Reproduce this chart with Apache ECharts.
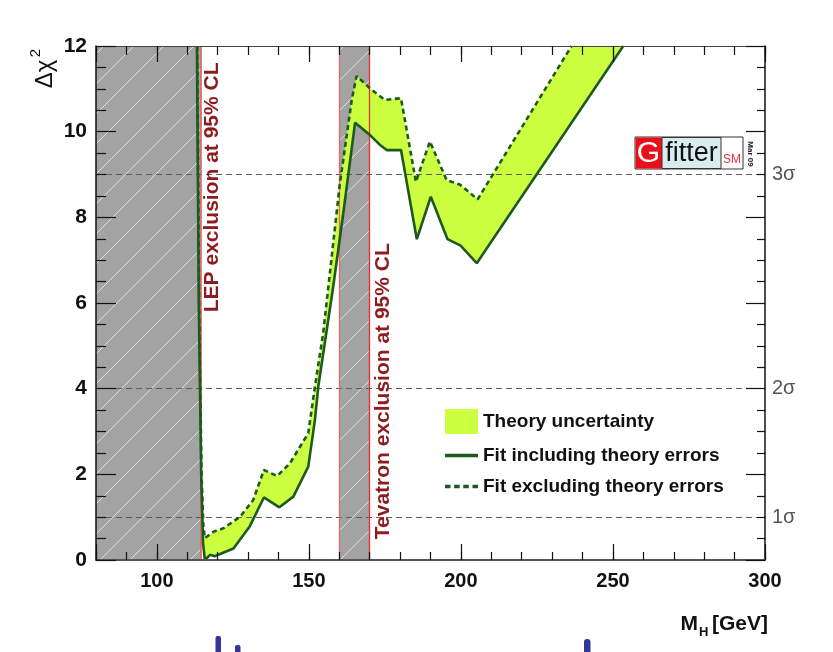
<!DOCTYPE html>
<html><head><meta charset="utf-8">
<script src="https://cdn.jsdelivr.net/npm/echarts@6/dist/echarts.min.js"></script>
<style>html,body{margin:0;padding:0;background:#fff}#c{width:833px;height:652px}</style>
</head><body><div id="c"></div>
<script>
// ---- data ----
const massIncl = [113.2, 113.8, 114.6, 115.2, 115.8, 117.5, 119.1, 120.8, 125.2, 130.6, 135.2, 140.3, 144.9, 149.8, 152.0, 153.1, 158.0, 161.3, 165.2, 170.1, 173.4, 175.6, 180.3, 185.5, 190.1, 195.6, 199.9, 205.2, 253.4];
const chi2Incl = [12, 6, 2, 0.4, 0.0, 0.12, 0.09, 0.14, 0.27, 0.79, 1.46, 1.23, 1.48, 2.18, 3.27, 4.05, 6.38, 8.09, 10.21, 9.92, 9.69, 9.57, 9.57, 7.49, 8.48, 7.49, 7.34, 6.93, 12];
const massExcl = [113.3, 113.9, 114.7, 115.3, 115.8, 118.6, 121.9, 127.4, 131.7, 135.2, 139.6, 143.8, 149.8, 152.0, 154.7, 160.2, 164.1, 165.7, 170.1, 175.0, 180.3, 185.2, 189.8, 195.3, 199.8, 205.5, 236.4];
const chi2Excl = [12, 6, 2, 0.8, 0.51, 0.66, 0.74, 1.01, 1.40, 2.10, 1.96, 2.26, 2.96, 4.05, 5.29, 8.79, 10.74, 11.30, 11.01, 10.74, 10.78, 8.83, 9.77, 8.87, 8.76, 8.42, 12];
const sigmaLevels = [1, 4, 9];
const sigmaLabels = ['1σ', '2σ', '3σ'];
const lepLimit = 114.4;
const tevatronRange = [160, 170];
const xTickLabels = [100, 150, 200, 250, 300];
const legendNames = ['Theory uncertainty', 'Fit including theory errors', 'Fit excluding theory errors'];

const FONT = "'Liberation Sans', Arial, sans-serif";
const bandColor = '#ccff3f';
const lineColor = '#1d5a1d';
const exclColor = '#8e1b1f';

// hatch pattern for excluded regions
const pat = document.createElement('canvas');
pat.width = 30; pat.height = 30;
const g = pat.getContext('2d');
g.fillStyle = '#a3a3a3'; g.fillRect(0, 0, 30, 30);
g.strokeStyle = 'rgba(232,232,232,0.85)'; g.lineWidth = 1;
g.beginPath();
g.moveTo(-2, 32); g.lineTo(32, -2);
g.stroke();

const chart = echarts.init(document.getElementById('c'), null, {renderer: 'canvas'});

const tickStyle = {color: '#111', width: 1.2};
function xAx(pos, minorOnly, len, showLine, showLabel) {
  const a = {
    type: 'value', min: 80, max: 300, position: pos, z: 10,
    axisLine: {show: showLine, lineStyle: {color: pos === 'bottom' ? '#555' : '#444', width: pos === 'bottom' ? 2 : 1}},
    axisTick: {show: true, inside: true, length: len, lineStyle: tickStyle},
    splitLine: {show: false},
    axisLabel: showLabel ? {
      show: true, fontSize: 20, fontWeight: 'bold', color: '#111', fontFamily: FONT, margin: 11,
      formatter: v => xTickLabels.indexOf(v) >= 0 ? String(v) : ''
    } : {show: false}
  };
  if (minorOnly) a.interval = 10;
  return a;
}

const solidIcon = 'path://M0,0H30V3H0Z';
const dashIcon = 'path://M0,0H5V3H0Z M8.3,0H13.3V3H8.3Z M16.6,0H21.6V3H16.6Z M25,0H30V3H25Z';

const option = {
  animation: false,
  backgroundColor: '#fff',
  grid: {left: 96, right: 68, top: 46, bottom: 92, containLabel: false, outerBoundsMode: 'none'},
  xAxis: [
    xAx('bottom', true, 8, true, false),
    xAx('bottom', false, 16, false, true),
    xAx('top', true, 9, true, false),
    xAx('top', false, 16, false, false)
  ],
  yAxis: [
    {type: 'value', min: 0, max: 12, interval: 2, position: 'left', z: 10,
      axisLine: {show: true, lineStyle: {color: '#111', width: 1.5}},
      axisTick: {show: true, inside: true, length: 20, lineStyle: tickStyle},
      minorTick: {show: true, splitNumber: 4, length: 10, lineStyle: tickStyle},
      splitLine: {show: false},
      axisLabel: {fontSize: 21, fontWeight: 'bold', color: '#111', fontFamily: FONT, margin: 9}},
    {type: 'value', min: 0, max: 12, interval: 2, position: 'right', z: 10,
      axisLine: {show: true, lineStyle: {color: '#111', width: 1.5}},
      axisTick: {show: true, inside: true, length: 19, lineStyle: tickStyle},
      minorTick: {show: true, splitNumber: 4, length: 8, lineStyle: tickStyle},
      splitLine: {show: false},
      axisLabel: {show: false}}
  ],
  legend: {
    left: 440, top: 404, orient: 'vertical', itemWidth: 33, itemHeight: 25, itemGap: 12,
    symbolKeepAspect: true,
    itemStyle: {borderWidth: 0},
    textStyle: {fontSize: 19, fontWeight: 'bold', color: '#111', fontFamily: FONT},
    data: [
      {name: legendNames[0], icon: 'rect'},
      {name: legendNames[1], icon: solidIcon},
      {name: legendNames[2], icon: dashIcon}
    ],
    selectedMode: false
  },
  series: [
    {
      name: 'regions', type: 'line', data: [], silent: true,
      markArea: {
        silent: true, z: 1,
        itemStyle: {color: {image: pat, repeat: 'repeat'}},
        data: [
          [{xAxis: 80}, {xAxis: lepLimit}],
          [{xAxis: tevatronRange[0]}, {xAxis: tevatronRange[1]}]
        ]
      },
      markLine: {
        silent: true, z: 5, symbol: ['none', 'none'],
        data: sigmaLevels.map((v, i) => ({
          yAxis: v,
          lineStyle: {color: '#5e5e5e', type: [6, 4], width: 1.2},
          label: {show: true, position: 'end', formatter: sigmaLabels[i], color: '#555', fontSize: 20, fontFamily: FONT, distance: 7}
        })).concat([
          {xAxis: lepLimit, lineStyle: {color: '#e05252', type: 'solid', width: 1.5}, label: {show: false}},
          {xAxis: tevatronRange[0], lineStyle: {color: '#e26a6a', type: 'solid', width: 1.3}, label: {show: false}},
          {xAxis: tevatronRange[1], lineStyle: {color: '#ee2a2a', type: 'solid', width: 1.3}, label: {show: false}}
        ])
      }
    },
    {
      name: legendNames[0], type: 'custom', z: 2, silent: true,
      itemStyle: {color: bandColor},
      data: [[massIncl[0], chi2Incl[0]]],
      renderItem: function (params, api) {
        const pts = [];
        for (let i = 0; i < massExcl.length; i++) pts.push(api.coord([massExcl[i], chi2Excl[i]]));
        for (let i = massIncl.length - 1; i >= 0; i--) pts.push(api.coord([massIncl[i], chi2Incl[i]]));
        return {type: 'polygon', shape: {points: pts}, style: {fill: bandColor, stroke: null}};
      }
    },
    {
      name: legendNames[1], type: 'line', z: 6, symbol: 'none', silent: true, clip: true,
      data: massIncl.map((m, i) => [m, chi2Incl[i]]),
      itemStyle: {color: lineColor, borderWidth: 0},
      lineStyle: {color: lineColor, width: 2.6}
    },
    {
      name: legendNames[2], type: 'line', z: 6, symbol: 'none', silent: true, clip: true,
      data: massExcl.map((m, i) => [m, chi2Excl[i]]),
      itemStyle: {color: lineColor, borderWidth: 0},
      lineStyle: {color: lineColor, width: 2.6, type: [5, 3.5]}
    }
  ]
};
chart.setOption(option);

// text annotations anchored to data positions
const pLep = chart.convertToPixel({xAxisIndex: 0, yAxisIndex: 0}, [lepLimit, 8.7]);
const pTev = chart.convertToPixel({xAxisIndex: 0, yAxisIndex: 0}, [tevatronRange[1], 3.94]);
const rot = Math.PI / 2;
chart.setOption({
  graphic: [
    {type: 'text', x: pLep[0] + 12, y: pLep[1], rotation: rot, z: 20,
      style: {text: 'LEP exclusion at 95% CL', fill: exclColor, font: 'bold 21px ' + FONT, align: 'center', verticalAlign: 'middle'}},
    {type: 'text', x: pTev[0] + 14, y: pTev[1], rotation: rot, z: 20,
      style: {text: 'Tevatron exclusion at 95% CL', fill: exclColor, font: 'bold 21px ' + FONT, align: 'center', verticalAlign: 'middle'}},
    // y axis title
    {type: 'text', x: 45, y: 74, rotation: rot, z: 20,
      style: {text: 'Δχ', fill: '#111', font: '24px ' + FONT, align: 'center', verticalAlign: 'middle'}},
    {type: 'text', x: 36, y: 53, rotation: rot, z: 20,
      style: {text: '2', fill: '#111', font: '15px ' + FONT, align: 'center', verticalAlign: 'middle'}},
    // x axis title
    {type: 'text', x: 698, y: 624, z: 20, style: {text: 'M', fill: '#111', font: 'bold 21px ' + FONT, align: 'right', verticalAlign: 'middle'}},
    {type: 'text', x: 699, y: 632, z: 20, style: {text: 'H', fill: '#111', font: 'bold 13px ' + FONT, align: 'left', verticalAlign: 'middle'}},
    {type: 'text', x: 768, y: 624, z: 20, style: {text: '[GeV]', fill: '#111', font: 'bold 21px ' + FONT, align: 'right', verticalAlign: 'middle'}},
    // Gfitter logo
    {type: 'rect', z: 20, shape: {x: 635, y: 137, width: 108, height: 32}, style: {fill: '#fff', stroke: '#333', lineWidth: 1}},
    {type: 'rect', z: 21, shape: {x: 635.5, y: 137.5, width: 26.5, height: 31}, style: {fill: '#e8101a'}},
    {type: 'rect', z: 21, shape: {x: 662, y: 137.5, width: 59, height: 31}, style: {fill: '#d9ecef', stroke: '#333', lineWidth: 1}},
    {type: 'text', z: 22, x: 648.5, y: 154, style: {text: 'G', fill: '#fff', font: '30px ' + FONT, align: 'center', verticalAlign: 'middle'}},
    {type: 'text', z: 22, x: 691.5, y: 154, style: {text: 'fitter', fill: '#111', font: '27px ' + FONT, align: 'center', verticalAlign: 'middle'}},
    {type: 'text', z: 22, x: 732, y: 160, style: {text: 'SM', fill: '#e8303a', font: '12px ' + FONT, align: 'center', verticalAlign: 'middle'}},
    {type: 'text', z: 22, x: 750, y: 154, rotation: -Math.PI / 2, style: {text: 'Mar 09', fill: '#222', font: 'bold 8px ' + FONT, align: 'center', verticalAlign: 'middle'}},
    // blue fragments at bottom edge
    {type: 'rect', z: 20, shape: {x: 215.5, y: 636, width: 5.5, height: 20, r: 2}, style: {fill: '#35359a'}},
    {type: 'rect', z: 20, shape: {x: 235, y: 645, width: 5.5, height: 10, r: 2}, style: {fill: '#35359a'}},
    {type: 'rect', z: 20, shape: {x: 584, y: 639, width: 6.5, height: 16, r: 3}, style: {fill: '#35359a'}}
  ]
});
</script></body></html>
